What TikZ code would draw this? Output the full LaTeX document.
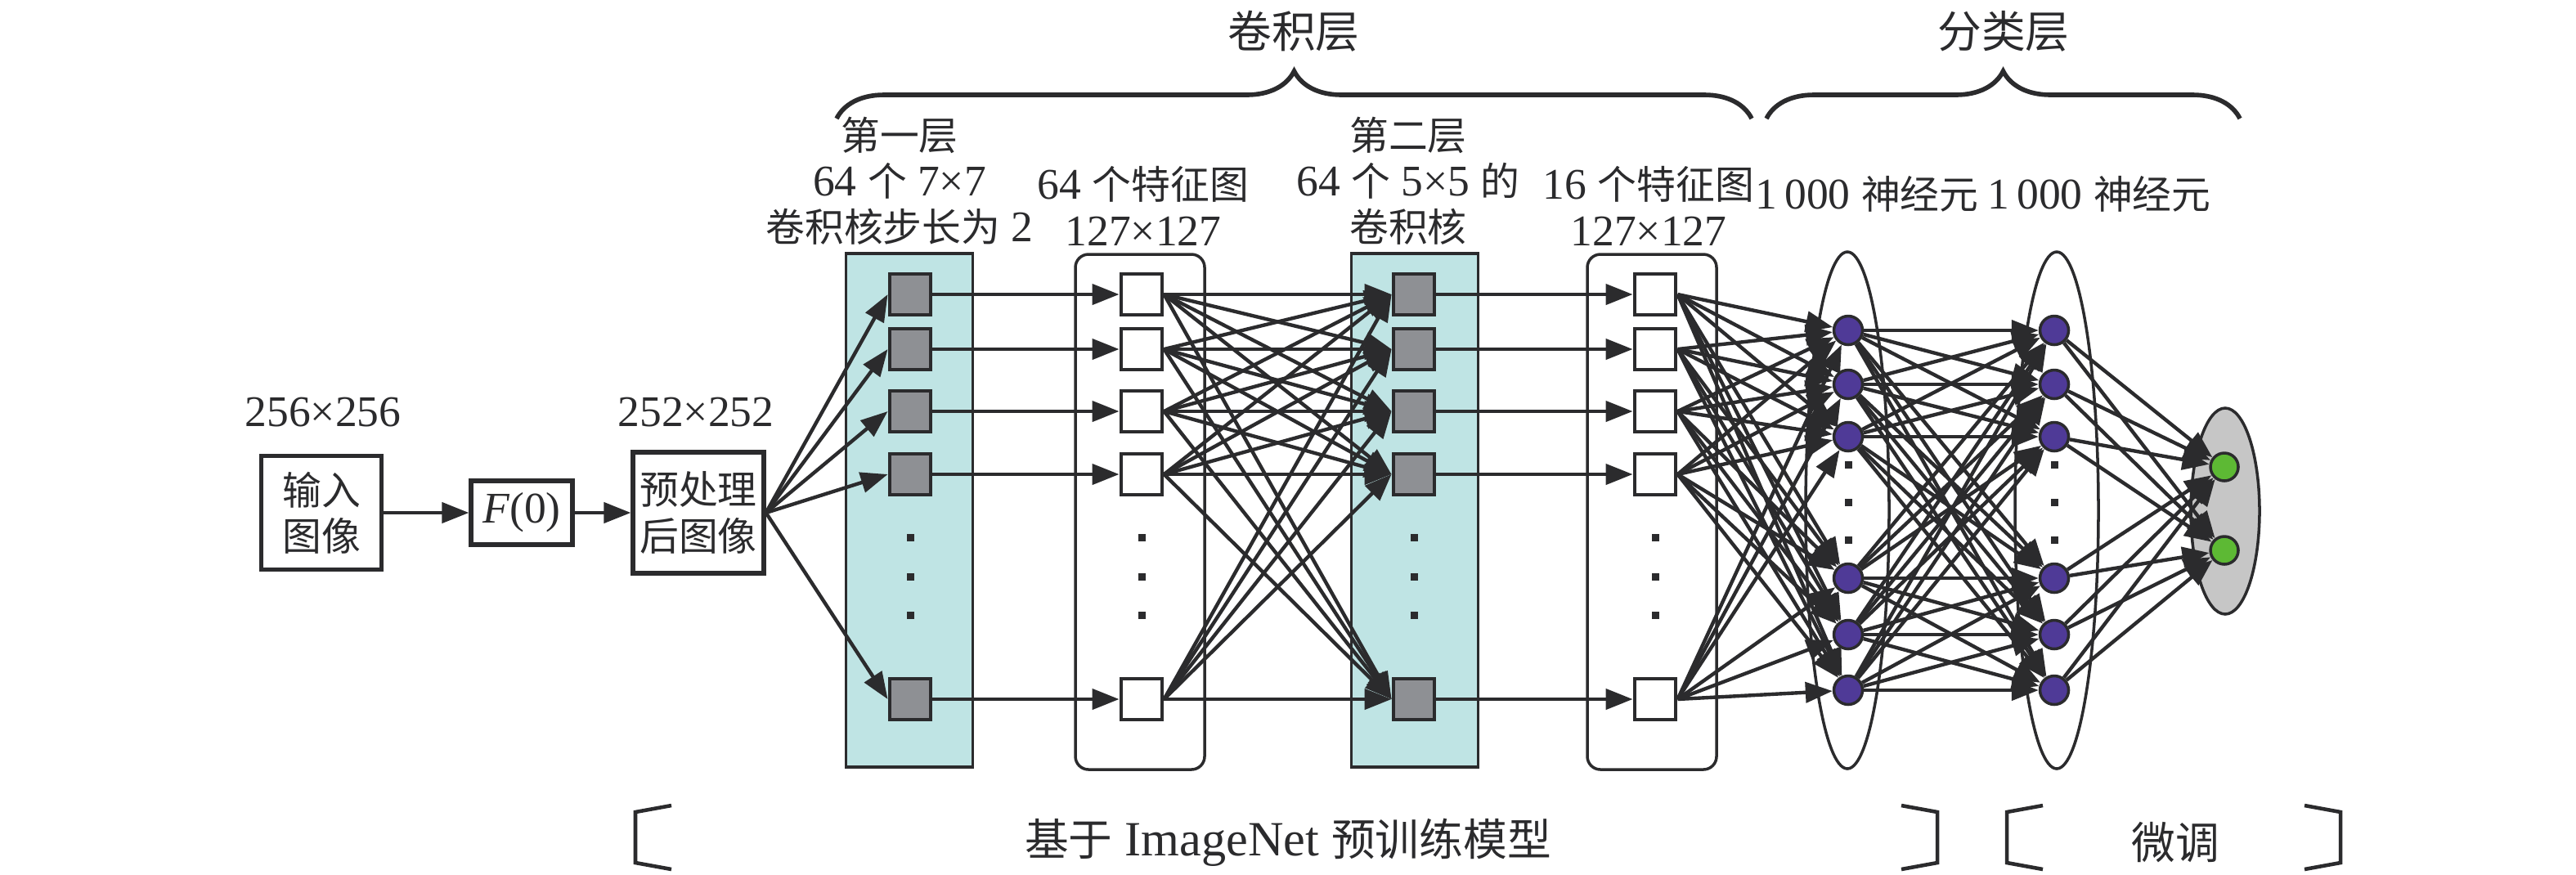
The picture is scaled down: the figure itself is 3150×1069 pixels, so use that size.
\documentclass[tikz,border=0pt]{standalone}
\usepackage{fontspec}
\setmainfont{Liberation Serif}[Scale=1.12]
\newfontfamily\zhfont{Noto Sans CJK SC}
\newcommand{\zh}[1]{{\zhfont #1}}
\usetikzlibrary{arrows.meta,decorations.pathreplacing,shapes.geometric}
\definecolor{inkgray}{HTML}{2B2B2D}
\definecolor{kernteal}{HTML}{BFE4E4}
\definecolor{kerngray}{HTML}{8E9094}
\definecolor{cellpurple}{HTML}{4F3A97}
\definecolor{outgreen}{HTML}{5DB934}
\definecolor{outgray}{HTML}{C6C6C6}

\begin{document}
\begin{tikzpicture}[x=0.1mm,y=-0.1mm,>={Triangle[length=3.3mm,width=2.5mm]},
    every node/.style={font=\fontsize{13.6}{16}\selectfont,text=inkgray,align=center,inner sep=0pt},
    imgbox/.style={draw=inkgray,line width=1.5pt,fill=white},
    kernbox/.style={draw=inkgray,line width=1pt,fill=kernteal,minimum width=15.5mm,minimum height=62.8mm},
    mapbox/.style={draw=inkgray,line width=1pt,rounded corners=1.6mm,minimum width=15.8mm,minimum height=63mm},
    layerell/.style={ellipse,draw=inkgray,line width=1pt,minimum width=10.2mm,minimum height=63.2mm},
    kern/.style={draw=inkgray,line width=1.4pt,fill=kerngray,minimum size=5mm},
    fmap/.style={draw=inkgray,line width=1.4pt,fill=white,minimum size=5mm},
    cell/.style={circle,draw=inkgray,line width=1pt,fill=cellpurple,minimum size=3.5mm},
    outcell/.style={circle,draw=inkgray,line width=1pt,fill=outgreen,minimum size=3.4mm},
    vdot/.style={fill=inkgray,minimum size=0.9mm},
    link/.style={->,draw=inkgray,line width=1.25pt},
    titletext/.style={font=\fontsize{15.3}{18}\selectfont},
    bracket/.style={draw=inkgray,line width=1.3pt},
    bigbrace/.style={draw=inkgray,line width=1.6pt,decorate,decoration={brace,amplitude=5.8mm}}]
  \useasboundingbox (0,0) rectangle (3150,1069);

  % input side
  \node (inlab) at (395,504) {256×256};
  \node[imgbox,minimum width=14.7mm,minimum height=13.9mm] (inp) at (393,627) {\zh{输入}\\\zh{图像}};
  \node[imgbox,minimum width=12.4mm,minimum height=7.8mm] (fzero) at (638,627) {\textit{F}(0)};
  \node[imgbox,minimum width=16mm,minimum height=14.8mm] (pre) at (854,627) {\zh{预处理}\\\zh{后图像}};
  \node (prelab) at (851,504) {252×252};
  \draw[link] (inp) -- (fzero);
  \draw[link] (fzero) -- (pre);

  % layer frames
  \node[kernbox] (k1box) at (1112,624) {};
  \node[mapbox] (f1box) at (1394,626) {};
  \node[kernbox] (k2box) at (1730,624) {};
  \node[mapbox] (f2box) at (2020,626) {};
  \node[layerell] (n1box) at (2259,624) {};
  \node[layerell] (n2box) at (2515,624) {};
  \node[ellipse,draw=inkgray,line width=1pt,fill=outgray,minimum width=8.4mm,minimum height=25.2mm] (obox) at (2721,625) {};

  % squares and neurons
  \foreach \c/\x/\s in {k1/1113/kern,f1/1396/fmap,k2/1729/kern,f2/2024/fmap}{
    \foreach \y [count=\i] in {360,427,503,580,855}
      \node[\s] (\c-\i) at (\x,\y) {};
    \foreach \y [count=\i] in {657,705,752}
      \node[vdot] (\c-d\i) at (\x,\y) {};
  }
  \foreach \c/\x in {n1/2260,n2/2512}{
    \foreach \y [count=\i] in {404,470,534,707,776,844}
      \node[cell] (\c-\i) at (\x,\y) {};
    \foreach \y [count=\i] in {568,614,660}
      \node[vdot] (\c-d\i) at (\x,\y) {};
  }
  \node[outcell] (o1) at (2720,571) {};
  \node[outcell] (o2) at (2720,673) {};

  % connections
  \foreach \i in {1,...,5}{
    \draw[link] (pre.east) -- (k1-\i.west);
    \draw[link] (k1-\i.east) -- (f1-\i.west);
    \draw[link] (k2-\i.east) -- (f2-\i.west);
    \foreach \j in {1,...,5}
      \draw[link] (f1-\i.east) -- (k2-\j.west);
    \foreach \j in {1,...,6}
      \draw[link] (f2-\i.east) -- (n1-\j);
  }
  \foreach \i in {1,...,6}{
    \foreach \j in {1,...,6}
      \draw[link] (n1-\i) -- (n2-\j);
    \foreach \j in {1,2}
      \draw[link] (n2-\i) -- (o\j);
  }

  % labels
  \node (l1) at (1100,221) {\zh{第一层}\\64 \zh{个} 7×7\\\zh{卷积核步长为} 2};
  \node (l2) at (1398,252) {64 \zh{个特征图}\\127×127};
  \node (l3) at (1722,221) {\zh{第二层}\\64 \zh{个} 5×5 \zh{的}\\\zh{卷积核}};
  \node (l4) at (2016,252) {16 \zh{个特征图}\\127×127};
  \node (l5) at (2283,237) {1\,000 \zh{神经元}};
  \node (l6) at (2567,237) {1\,000 \zh{神经元}};

  % braces on top
  \draw[bigbrace] (1023,145) -- (2142,145);
  \draw[bigbrace] (2160,145) -- (2739,145);
  \node[titletext] (convt) at (1582,38) {\zh{卷积层}};
  \node[titletext] (clst) at (2450,38) {\zh{分类层}};

  % brackets below
  \draw[bracket] (821,985) -- (777,993) -- (777,1055) -- (821,1063);
  \draw[bracket] (2325,985) -- (2369,993) -- (2369,1055) -- (2325,1063);
  \draw[bracket] (2498,985) -- (2454,993) -- (2454,1055) -- (2498,1063);
  \draw[bracket] (2818,985) -- (2862,993) -- (2862,1055) -- (2818,1063);
  \node[titletext] (pretr) at (1575,1030) {\zh{基于} ImageNet \zh{预训练模型}};
  \node[titletext] (ftune) at (2660,1030) {\zh{微调}};
\end{tikzpicture}
\end{document}
